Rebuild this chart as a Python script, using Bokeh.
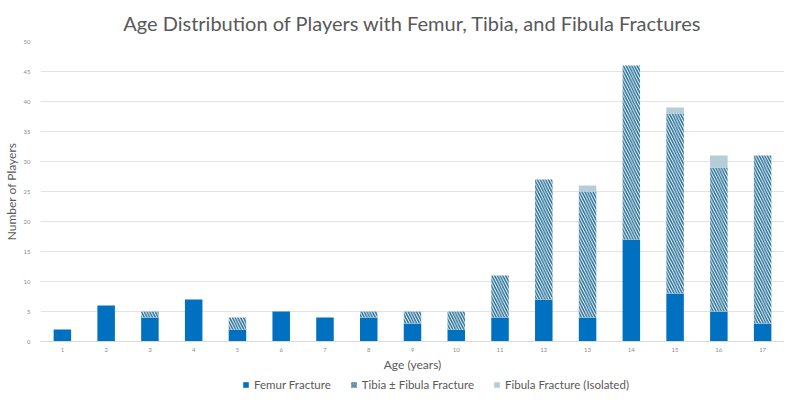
from bokeh.plotting import figure
from bokeh.layouts import column
from bokeh.models import Legend, LegendItem, ColumnDataSource, SingleIntervalTicker
from bokeh.embed import file_html
from bokeh.resources import INLINE

ages = [str(a) for a in range(1, 18)]
femur = [2, 6, 4, 7, 2, 5, 4, 4, 3, 2, 4, 7, 4, 17, 8, 5, 3]
tibia = [0, 0, 1, 0, 2, 0, 0, 1, 2, 3, 7, 20, 21, 29, 30, 24, 28]
fibula = [0, 0, 0, 0, 0, 0, 0, 0, 0, 0, 0, 0, 1, 0, 1, 2, 0]

series = ["Femur Fracture", "Tibia \u00b1 Fibula Fracture", "Fibula Fracture (Isolated)"]

src = ColumnDataSource(dict(age=ages, femur=femur, tibia=tibia, fibula=fibula))

FONT = "Lato"
GRAY = "#595959"
FILLS = ["#0070c0", "white", "#b4cdd9"]
HATCHES = [" ", "\\", " "]
HCOLORS = ["#0070c0", "#236e96", "#b4cdd9"]

p = figure(x_range=ages, y_range=(0, 50), width=784, height=374,
           output_backend="svg", toolbar_location=None,
           title="Age Distribution of Players with Femur, Tibia, and Fibula Fractures",
           min_border_left=27, min_border_right=0, min_border_top=41, min_border_bottom=0)

p.title.align = "center"
p.title.text_font = FONT
p.title.text_font_size = "20px"
p.title.text_font_style = "normal"
p.title.text_color = GRAY
p.title.standoff = 14

r = p.vbar_stack(["femur", "tibia", "fibula"], x="age", width=0.4, source=src,
                 fill_color=FILLS, line_color=None,
                 hatch_pattern=HATCHES, hatch_color=HCOLORS,
                 hatch_scale=5.5, hatch_weight=1.5)

p.xaxis.axis_label = "Age (years)"
p.yaxis.axis_label = "Number of Players"
for ax in (p.xaxis[0], p.yaxis[0]):
    ax.axis_label_text_font = FONT
    ax.axis_label_text_font_size = "12px"
    ax.axis_label_text_font_style = "normal"
    ax.axis_label_text_color = GRAY
    ax.major_label_text_font = FONT
    ax.major_label_text_font_size = "6px"
    ax.major_label_text_color = "#8c8c8c"
    ax.major_tick_line_color = None
    ax.minor_tick_line_color = None
p.xaxis.axis_line_color = "#d9d9d9"
p.yaxis.axis_line_color = None
p.yaxis.ticker = SingleIntervalTicker(interval=5)
p.xaxis.axis_label_standoff = 2
p.yaxis.axis_label_standoff = 2
p.xaxis.major_label_standoff = 0
p.yaxis.major_label_standoff = 4

p.xgrid.grid_line_color = None
p.ygrid.grid_line_color = "#e3e3e3"
p.outline_line_color = None
p.x_range.range_padding = 0

# legend row
lf = figure(width=784, height=17, output_backend="svg", toolbar_location=None,
            x_range=(0, 1), y_range=(0, 1),
            min_border_left=0, min_border_right=0, min_border_top=0, min_border_bottom=0)
lf.axis.visible = False
lf.grid.visible = False
lf.outline_line_color = None
dummies = []
for i in range(3):
    dummies.append(lf.vbar(x=[-5], bottom=[-5], top=[-4], width=0.1, fill_color=FILLS[i], line_color=None,
                           hatch_pattern=HATCHES[i], hatch_color=HCOLORS[i],
                           hatch_scale=3.5, hatch_weight=1.2))
legend = Legend(items=[LegendItem(label=series[i], renderers=[dummies[i]]) for i in range(3)],
                orientation="horizontal", location=(202, 0),
                label_text_font=FONT, label_text_font_size="11.5px", label_text_color=GRAY,
                glyph_width=7, glyph_height=7, spacing=19, padding=2, margin=0,
                border_line_color=None, background_fill_alpha=0, label_standoff=5)
lf.add_layout(legend, "center")

layout = column(p, lf, spacing=0)
open("out.html", "w").write(file_html(layout, INLINE))
